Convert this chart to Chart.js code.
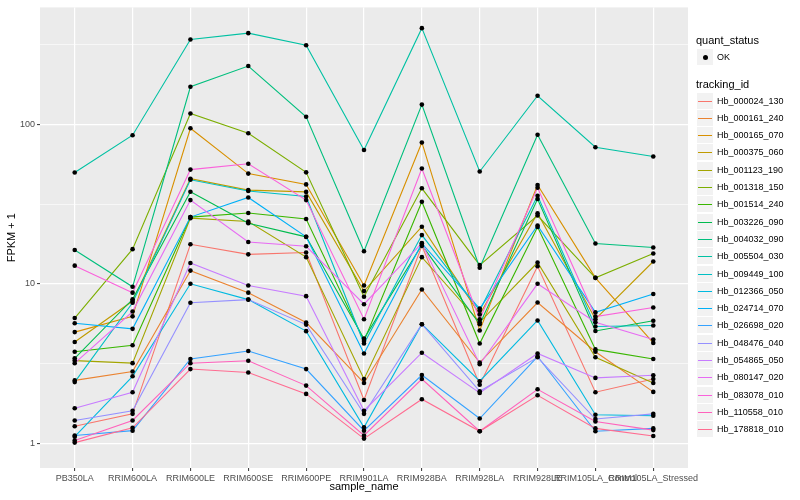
<!DOCTYPE html>
<html lang="en">
<head>
    <meta charset="UTF-8">
    <title>FPKM + 1 by sample</title>
    <script src="https://cdn.jsdelivr.net/npm/chart.js"></script>
    <style>
        html, body { margin: 0; padding: 0; background: #ffffff; }
        body { font-family: "Liberation Sans", Arial, sans-serif; }
        #wrap { position: relative; width: 800px; height: 500px; }
        #plot { position: absolute; left: 0; top: 0; }

        /* ggplot-style legend on the right */
        .legend-title { position: absolute; left: 696px; font-size: 11px; line-height: 14px; color: #000; white-space: nowrap; }
        .key { position: absolute; left: 697px; width: 16px; height: 16px; background: #F2F2F2; }
        .key .seg { position: absolute; left: 1px; top: 8px; width: 14px; height: 1px; }
        .key .dot { position: absolute; left: 5.5px; top: 5.5px; width: 5px; height: 5px; border-radius: 50%; background: #000; }
        .key-label { position: absolute; left: 717px; font-size: 9px; line-height: 12px; color: #000; white-space: nowrap; }
    </style>
</head>
<body>
<div id="wrap">
    <canvas id="plot" width="800" height="500"></canvas>
    <div id="legend"></div>
</div>

<script>
    // categories on the x axis
    const samples = ['PB350LA', 'RRIM600LA', 'RRIM600LE', 'RRIM600SE', 'RRIM600PE', 'RRIM901LA',
                     'RRIM928BA', 'RRIM928LA', 'RRIM928LE', 'RRIM105LA_Control', 'RRIM105LA_Stressed'];

    const trackingIds = ['Hb_000024_130', 'Hb_000161_240', 'Hb_000165_070', 'Hb_000375_060', 'Hb_001123_190',
                         'Hb_001318_150', 'Hb_001514_240', 'Hb_003226_090', 'Hb_004032_090', 'Hb_005504_030',
                         'Hb_009449_100', 'Hb_012366_050', 'Hb_024714_070', 'Hb_026698_020', 'Hb_048476_040',
                         'Hb_054865_050', 'Hb_080147_020', 'Hb_083078_010', 'Hb_110558_010', 'Hb_178818_010'];

    // FPKM + 1, one value per sample
    const hb_000024_130 = [1.28, 1.53, 17.7, 15.3, 15.7, 1.87, 17.3, 2.33, 12.9, 2.09, 2.53];
    const hb_000161_240 = [2.48, 2.82, 12.1, 8.8, 5.72, 2.39, 9.22, 3.21, 7.63, 3.75, 2.10];
    const hb_000165_070 = [4.98, 6.25, 94.5, 49.1, 42.0, 9.77, 77.0, 5.1, 41.6, 10.9, 4.26];
    const hb_000375_060 = [4.32, 7.8, 45.6, 38.7, 37.7, 9.0, 22.8, 6.43, 27.7, 6.0, 13.8];
    const hb_001123_190 = [3.3, 3.18, 25.8, 24.6, 14.7, 2.53, 14.7, 5.74, 13.6, 3.46, 2.39];
    const hb_001318_150 = [6.1, 16.5, 117, 88, 50, 8.3, 39.7, 13.1, 26.8, 10.9, 15.5];
    const hb_001514_240 = [3.75, 4.12, 26.2, 27.8, 25.5, 4.38, 32.7, 4.22, 22.7, 3.88, 3.38];
    const hb_003226_090 = [3.41, 8.0, 37.8, 24.0, 19.7, 4.53, 17.5, 5.58, 34.0, 5.06, 5.87];
    const hb_004032_090 = [16.3, 9.58, 172, 232, 111.6, 16.0, 133, 12.6, 86, 17.9, 16.9];
    const hb_005504_030 = [49.9, 85.5, 340, 373, 313, 69.1, 401, 50.6, 151, 71.8, 62.9];
    const hb_009449_100 = [2.42, 7.6, 44.9, 38.2, 35.3, 4.22, 20.2, 6.8, 35.6, 5.4, 5.48];
    const hb_012366_050 = [1.10, 2.63, 10.0, 7.96, 5.05, 1.26, 5.58, 2.45, 5.89, 1.51, 1.49];
    const hb_024714_070 = [5.66, 5.22, 26.2, 34.8, 19.7, 3.66, 17.9, 7.0, 23.2, 6.62, 8.64];
    const hb_026698_020 = [1.12, 1.2, 3.38, 3.79, 2.92, 1.2, 2.68, 1.43, 3.5, 1.19, 1.24];
    const hb_048476_040 = [1.39, 1.6, 7.6, 7.96, 5.55, 1.53, 5.58, 2.12, 3.46, 1.42, 1.53];
    const hb_054865_050 = [1.66, 2.09, 13.5, 9.77, 8.37, 1.6, 3.7, 2.07, 3.66, 2.57, 2.67];
    const hb_080147_020 = [3.18, 6.7, 33.5, 18.3, 17.2, 7.45, 18.0, 3.13, 10.0, 5.74, 4.47];
    const hb_083078_010 = [13.0, 8.8, 52, 56.6, 33.5, 6.0, 52.8, 6.0, 40, 6.23, 7.11];
    const hb_110558_010 = [1.04, 1.39, 3.18, 3.29, 2.30, 1.12, 2.53, 1.19, 2.18, 1.37, 1.21];
    const hb_178818_010 = [1.01, 1.25, 2.92, 2.78, 2.04, 1.07, 1.89, 1.19, 2.0, 1.24, 1.11];

    const seriesValues = [hb_000024_130, hb_000161_240, hb_000165_070, hb_000375_060, hb_001123_190,
                          hb_001318_150, hb_001514_240, hb_003226_090, hb_004032_090, hb_005504_030,
                          hb_009449_100, hb_012366_050, hb_024714_070, hb_026698_020, hb_048476_040,
                          hb_054865_050, hb_080147_020, hb_083078_010, hb_110558_010, hb_178818_010];

    // y axis breaks: majors at powers of ten, minors half way (log)
    const yBreaks = [1, 3.1623, 10, 31.623, 100, 316.23];

    // ggplot default hue palette for 20 groups
    const lineColours = ['#F8766D', '#EA8331', '#D89000', '#C09B00', '#A3A500', '#7CAE00', '#39B600',
                         '#00BB4E', '#00BF7D', '#00C1A3', '#00BFC4', '#00BAE0', '#00B0F6', '#35A2FF',
                         '#9590FF', '#C77CFF', '#E76BF3', '#FA62DB', '#FF62BC', '#FF6C91'];

    const fontFamily = '"Liberation Sans", Arial, sans-serif';
    Chart.defaults.font.family = fontFamily;

    function isMajor(v) {
        const l = Math.log10(v);
        return Math.abs(l - Math.round(l)) < 1e-6;
    }

    // grey panel behind the grid
    const panelBackground = {
        id: 'panelBackground',
        beforeDraw(chart) {
            const { ctx, chartArea: a } = chart;
            ctx.save();
            ctx.fillStyle = '#EBEBEB';
            ctx.fillRect(a.left, a.top, a.right - a.left, a.bottom - a.top);
            ctx.restore();
        }
    };

    const toPoints = values => values.map((v, j) => ({ x: j, y: v }));

    // lines first (later ids on top), then black points above all lines
    const lineSets = trackingIds.map((id, i) => ({
        label: id,
        data: toPoints(seriesValues[i]),
        borderColor: lineColours[i],
        backgroundColor: lineColours[i],
        borderWidth: 1.1,
        pointRadius: 0,
        fill: false,
        tension: 0,
        order: 100 - i
    }));

    const pointSets = trackingIds.map((id, i) => ({
        label: id + ' (OK)',
        data: toPoints(seriesValues[i]),
        showLine: false,
        pointRadius: 2.3,
        pointBackgroundColor: '#000000',
        pointBorderWidth: 0,
        order: 0
    }));

    new Chart(document.getElementById('plot').getContext('2d'), {
        type: 'line',
        data: { datasets: lineSets.concat(pointSets) },
        options: {
            responsive: false,
            animation: false,
            layout: { padding: { top: 5, right: 112, left: 0, bottom: 0 } },
            plugins: {
                legend: { display: false },
                tooltip: { enabled: false }
            },
            scales: {
                x: {
                    type: 'linear',
                    min: -0.6,
                    max: 10.6,
                    afterBuildTicks: scale => { scale.ticks = samples.map((_, i) => ({ value: i })); },
                    afterFit: scale => { scale.height = 32; },
                    ticks: {
                        autoSkip: false,
                        maxRotation: 0,
                        minRotation: 0,
                        padding: 2,
                        color: '#4D4D4D',
                        font: { size: 9 },
                        callback: v => samples[v]
                    },
                    grid: { color: '#FFFFFF', lineWidth: 1.2, tickColor: '#333333', tickLength: 3, tickWidth: 1 },
                    border: { display: false },
                    title: { display: true, text: 'sample_name', color: '#000000', font: { size: 11 }, padding: { top: 0, bottom: 6 } }
                },
                y: {
                    type: 'logarithmic',
                    min: 0.748,
                    max: 541,
                    afterBuildTicks: scale => { scale.ticks = yBreaks.map(v => ({ value: v })); },
                    afterFit: scale => { scale.width = 40; },
                    ticks: {
                        autoSkip: false,
                        padding: 2,
                        color: '#4D4D4D',
                        font: { size: 9 },
                        callback: v => isMajor(v) ? String(Math.round(v)) : ''
                    },
                    grid: {
                        color: '#FFFFFF',
                        lineWidth: c => (c.tick && isMajor(c.tick.value)) ? 1.2 : 0.6,
                        tickColor: c => (c.tick && isMajor(c.tick.value)) ? '#333333' : 'rgba(0,0,0,0)',
                        tickLength: 3,
                        tickWidth: 1
                    },
                    border: { display: false },
                    title: { display: true, text: 'FPKM + 1', color: '#000000', font: { size: 11 }, padding: { top: 5, bottom: 0 } }
                }
            }
        },
        plugins: [panelBackground]
    });

    // legend: quant_status + tracking_id
    const legend = document.getElementById('legend');
    function addDiv(cls, top, html) {
        const d = document.createElement('div');
        d.className = cls;
        d.style.top = top + 'px';
        if (html) d.innerHTML = html;
        legend.appendChild(d);
        return d;
    }

    addDiv('legend-title', 33, 'quant_status');
    addDiv('key', 49, '<div class="dot"></div>');
    addDiv('key-label', 51, 'OK');

    addDiv('legend-title', 77, 'tracking_id');
    trackingIds.forEach((id, i) => {
        const top = Math.round(92.5 + i * 17.3);
        const key = addDiv('key', top, '<div class="seg"></div>');
        key.firstChild.style.background = lineColours[i];
        addDiv('key-label', top + 2, id);
    });
</script>
</body>
</html>
